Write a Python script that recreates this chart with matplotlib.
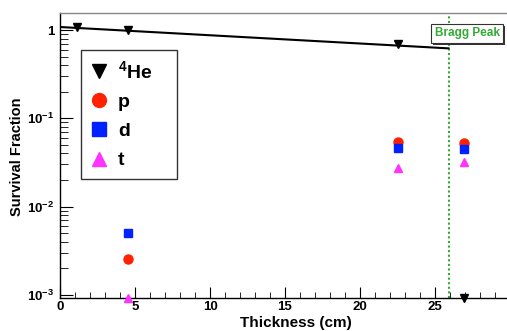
import matplotlib
matplotlib.use("Agg")
import matplotlib.pyplot as plt
import matplotlib.patheffects as pe
from matplotlib.ticker import FixedLocator, FixedFormatter, LogLocator, MultipleLocator, NullFormatter

plt.rcParams['font.family'] = ['Liberation Sans', 'DejaVu Sans']
plt.rcParams['mathtext.fontset'] = 'custom'
plt.rcParams['mathtext.rm'] = 'Liberation Sans:bold'
plt.rcParams['mathtext.bf'] = 'Liberation Sans:bold'
plt.rcParams['mathtext.it'] = 'Liberation Sans:bold'

# ---- data ----
he_x = [1.1, 4.5, 22.5, 26.9]
he_y = [1.08, 1.01, 0.70, 0.00092]
line_x = [0.1, 25.9]
line_y = [1.08, 0.62]
p_x = [4.5, 22.5, 26.9]
p_y = [0.00257, 0.0545, 0.0520]
d_x = [4.5, 22.5, 26.9]
d_y = [0.00505, 0.0457, 0.0446]
t_x = [4.5, 22.5, 26.9]
t_y = [0.00092, 0.0277, 0.0316]
bragg_x = 25.9
bragg_label = 'Bragg Peak'
ytick_vals = [1e-3, 1e-2, 1e-1, 1]
ytick_labels = [r'$10^{-3}$', r'$10^{-2}$', r'$10^{-1}$', '1']
xtick_vals = [0, 5, 10, 15, 20, 25]

fig = plt.figure(figsize=(5.07, 3.31), dpi=100)
W, H = 507, 331
ax = fig.add_axes([60 / W, (H - 298) / H, 450 / W, (298 - 13) / H])
ax.set_yscale('log')
ax.set_xlim(0, 30)
ax.set_ylim(0.00092, 1.56)

ax.plot(line_x, line_y, color='black', lw=1.5, zorder=3)
ax.plot(he_x, he_y, linestyle='none', marker='v', color='black', ms=6,
        label=r'$^{4}$He', clip_on=False, zorder=4)
ax.plot(p_x, p_y, linestyle='none', marker='o', color='#ff2200', ms=6.5,
        label='p', clip_on=False, zorder=4)
ax.plot(d_x, d_y, linestyle='none', marker='s', color='#0022ff', ms=6,
        label='d', clip_on=False, zorder=4)
ax.plot(t_x, t_y, linestyle='none', marker='^', color='#ff33ff', ms=6,
        label='t', clip_on=False, zorder=4)

ax.axvline(bragg_x, color='#33aa33', ls=(0, (1, 1.2)), lw=1.5, zorder=2)
bt = ax.text(27.15, 0.92, bragg_label, color='#33aa33', fontsize=8.5, fontweight='bold',
             ha='center', va='center', zorder=6,
             bbox=dict(boxstyle='square,pad=0.3', fc='white', ec='#333333', lw=0.8))
bt.get_bbox_patch().set_path_effects([
    pe.SimplePatchShadow(offset=(1.5, -1.5), shadow_rgbFace='#333333', alpha=1.0),
    pe.Normal()])

ax.yaxis.set_major_locator(FixedLocator(ytick_vals))
ax.yaxis.set_major_formatter(FixedFormatter(ytick_labels))
ax.yaxis.set_minor_locator(LogLocator(base=10, subs=range(2, 10)))
ax.yaxis.set_minor_formatter(NullFormatter())
ax.xaxis.set_major_locator(FixedLocator(xtick_vals))
ax.xaxis.set_minor_locator(MultipleLocator(1))

ax.tick_params(axis='both', which='major', direction='in', labelsize=9.5,
               top=False, right=False)
ax.tick_params(axis='y', which='major', length=9, width=0.8, pad=4)
ax.tick_params(axis='y', which='minor', direction='in', length=6, width=0.6)
ax.tick_params(axis='x', which='major', length=8, width=0.8, pad=2)
ax.tick_params(axis='x', which='minor', direction='in', length=4, width=0.6)
for lab in ax.get_xticklabels() + ax.get_yticklabels():
    lab.set_fontweight('bold')

ax.spines['top'].set_color('#888888')
ax.spines['top'].set_linewidth(1.0)
ax.spines['left'].set_linewidth(1.0)
ax.spines['bottom'].set_linewidth(1.0)

ax.set_xlabel('Thickness (cm)', fontsize=11, fontweight='bold')
ax.xaxis.set_label_coords((352 - 60) / 450, -(327 - 298) / 285)
ax.xaxis.label.set_ha('right')
ax.xaxis.label.set_va('baseline')
ax.set_ylabel('Survival Fraction', fontsize=10.5, fontweight='bold')
ax.yaxis.set_label_coords((17 - 60) / 450, (298 - 157) / 285)
ax.yaxis.label.set_va('center')

lx0 = (81 - 60) / 450
ly1 = 1 - (50 - 13) / 285
lw_ = (177 - 81) / 450
lh_ = (180 - 50) / 285
leg = ax.legend(loc='upper left', bbox_to_anchor=(lx0, ly1 - lh_, lw_, lh_),
                mode='expand', frameon=True, fancybox=False, edgecolor='black',
                prop={'weight': 'bold', 'size': 14}, handletextpad=0.6,
                labelspacing=0.6, borderpad=0.5, handlelength=0.8,
                borderaxespad=0)
leg.get_frame().set_linewidth(1.0)
for h in leg.legend_handles:
    h.set_markersize(10)

fig.savefig('out.png', dpi=100)
